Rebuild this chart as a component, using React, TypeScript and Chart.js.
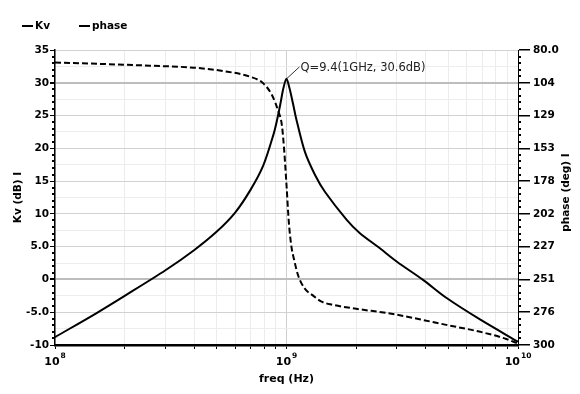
import { useEffect, useRef } from 'react';
import { Chart, registerables } from 'chart.js';
Chart.register(...registerables);

// ---- data ----
const kvFreqHz = [1e8, 1.5e8, 2e8, 3e8, 4e8, 5e8, 6e8, 7e8, 7.94e8, 8.8e8, 9.1e8, 9.4e8, 9.7e8, 1e9, 1.03e9, 1.07e9, 1.1e9, 1.2e9, 1.33e9, 1.47e9, 1.82e9, 2.07e9, 2.5e9, 3e9, 3.9e9, 4.9e9, 6.85e9, 1e10];
const kvDb = [-8.8, -5.2, -2.5, 1.4, 4.5, 7.3, 10.2, 13.7, 17.4, 22.2, 24.3, 26.7, 29.2, 30.6, 29.2, 26.6, 24.6, 19.5, 15.9, 13.3, 9.1, 7.1, 4.9, 2.7, -0.1, -2.8, -6.1, -9.5];

const phaseFreqHz = [1e8, 1.6e8, 2.57e8, 3.98e8, 5.33e8, 6.95e8, 7.94e8, 8.65e8, 9.23e8, 9.55e8, 9.77e8, 1e9, 1.023e9, 1.047e9, 1.084e9, 1.122e9, 1.2e9, 1.3e9, 1.41e9, 1.58e9, 2e9, 2.8e9, 3.8e9, 4.9e9, 6.8e9, 8.9e9, 1e10];
const phaseDeg = [89.3, 90.4, 91.7, 93.2, 95.7, 99.9, 104.9, 113.6, 126, 136, 154.6, 180.7, 208, 225, 238, 248, 258, 263, 267.5, 270, 273, 276.5, 281, 285, 290, 295.5, 299];

const kvTickValues = [-10, -5, 0, 5, 10, 15, 20, 25, 30, 35];
const kvTickLabels = ['-10', '-5.0', '0', '5.0', '10', '15', '20', '25', '30', '35'];
const phaseTickValues = [80, 104.44, 128.89, 153.33, 177.78, 202.22, 226.67, 251.11, 275.56, 300];
const phaseTickLabels = ['80.0', '104', '129', '153', '178', '202', '227', '251', '276', '300'];
const xDecades = [1e8, 1e9, 1e10];
const xDecadeExponents = ['8', '9', '10'];
const legendLabels = ['Kv', 'phase'];
const peakFreq = 1e9;
const peakDb = 30.6;
const peakText = 'Q=9.4(1GHz, 30.6dB)';
const xTitle = 'freq (Hz)';
const yTitle = 'Kv (dB) I';
const y2Title = 'phase (deg) I';

const FONT = '"DejaVu Sans", Verdana, sans-serif';

const overlayPlugin = {
  id: 'overlay',
  afterDraw(chart: any) {
    const ctx = chart.ctx as CanvasRenderingContext2D;
    const { left, right, top, bottom } = chart.chartArea;
    const xs = chart.scales.x;
    const ys = chart.scales.y;
    const y2 = chart.scales.y2;
    ctx.save();
    ctx.fillStyle = '#000';
    // minor tick dots, left axis
    for (let v = -10; v <= 35; v += 1) {
      if (v % 5 === 0) continue;
      const py = ys.getPixelForValue(v);
      ctx.fillRect(left - 3, Math.round(py) - 1, 2, 2);
    }
    // minor tick dots, right axis
    for (let i = 0; i < phaseTickValues.length - 1; i++) {
      const a = phaseTickValues[i];
      const b = phaseTickValues[i + 1];
      for (let k = 1; k < 5; k++) {
        const py = y2.getPixelForValue(a + ((b - a) * k) / 5);
        ctx.fillRect(right + 1, Math.round(py) - 1, 2, 2);
      }
    }
    // x decade labels with superscripts
    ctx.textBaseline = 'alphabetic';
    ctx.textAlign = 'left';
    xDecades.forEach((d, i) => {
      const px = xs.getPixelForValue(d);
      ctx.font = `bold 11px ${FONT}`;
      const wBase = ctx.measureText('10').width;
      ctx.font = `bold 7.5px ${FONT}`;
      const wExp = ctx.measureText(xDecadeExponents[i]).width;
      const x0 = px - (wBase + wExp + 1) / 2;
      ctx.font = `bold 11px ${FONT}`;
      ctx.fillText('10', x0, bottom + 20);
      ctx.font = `bold 7.5px ${FONT}`;
      ctx.fillText(xDecadeExponents[i], x0 + wBase + 1, bottom + 13);
    });
    // axis titles
    ctx.font = `bold 11px ${FONT}`;
    ctx.textAlign = 'center';
    ctx.fillText(xTitle, (left + right) / 2, bottom + 37);
    ctx.font = `bold 10.5px ${FONT}`;
    ctx.textBaseline = 'middle';
    ctx.save();
    ctx.translate(18, (top + bottom) / 2);
    ctx.rotate(-Math.PI / 2);
    ctx.fillText(yTitle, 0, 0);
    ctx.restore();
    ctx.save();
    ctx.translate(566, (top + bottom) / 2 - 5);
    ctx.rotate(-Math.PI / 2);
    ctx.fillText(y2Title, 0, 0);
    ctx.restore();
    // legend
    ctx.textAlign = 'left';
    ctx.font = `bold 10.5px ${FONT}`;
    const legendX = [22, 79];
    legendLabels.forEach((lab, i) => {
      ctx.fillRect(legendX[i], 25, 11, 2);
      ctx.fillText(lab, legendX[i] + 13, 26.5);
    });
    // peak annotation
    const px = xs.getPixelForValue(peakFreq);
    const py = ys.getPixelForValue(peakDb);
    ctx.strokeStyle = '#333';
    ctx.lineWidth = 1;
    ctx.beginPath();
    ctx.moveTo(px, py);
    ctx.lineTo(px + 13, py - 12);
    ctx.stroke();
    ctx.fillStyle = '#222';
    ctx.font = `11.5px ${FONT}`;
    ctx.textBaseline = 'alphabetic';
    ctx.fillText(peakText, px + 14, py - 8);
    ctx.restore();
  },
};

export default function App() {
  const ref = useRef<HTMLCanvasElement>(null);
  useEffect(() => {
    if (!ref.current) return;
    const xTickValues: number[] = [];
    for (let e = 8; e <= 9; e++) for (let m = 1; m <= 9; m++) xTickValues.push(m * Math.pow(10, e));
    xTickValues.push(1e10);

    const chart = new Chart(ref.current, {
      type: 'line',
      data: {
        datasets: [
          {
            label: legendLabels[0],
            data: kvFreqHz.map((f, i) => ({ x: f, y: kvDb[i] })),
            yAxisID: 'y',
            borderColor: '#000',
            borderWidth: 2,
            pointRadius: 0,
            tension: 0.3,
            fill: false,
          },
          {
            label: legendLabels[1],
            data: phaseFreqHz.map((f, i) => ({ x: f, y: phaseDeg[i] })),
            yAxisID: 'y2',
            borderColor: '#000',
            borderWidth: 2,
            borderDash: [6, 3],
            pointRadius: 0,
            cubicInterpolationMode: 'monotone',
            fill: false,
          },
        ],
      },
      options: {
        responsive: false,
        animation: false,
        layout: { padding: { top: 50, left: 0, right: 0, bottom: 0 } },
        plugins: { legend: { display: false }, tooltip: { enabled: false } },
        scales: {
          x: {
            type: 'logarithmic',
            min: 1e8,
            max: 1e10,
            afterBuildTicks: (s: any) => {
              s.ticks = xTickValues.map((v) => ({ value: v }));
            },
            afterFit: (s: any) => {
              s.height = 49;
            },
            ticks: { display: false },
            border: { color: '#000', width: 2.5 },
            grid: {
              color: (c: any) => (c.tick && Math.abs(c.tick.value - 1e9) < 1 ? '#cfcfcf' : '#ececec'),
              lineWidth: 1,
              tickLength: 4,
              tickColor: '#000',
            },
          },
          y: {
            type: 'linear',
            position: 'left',
            min: -10,
            max: 35,
            afterBuildTicks: (s: any) => {
              const t = [];
              for (let v = -10; v <= 35; v += 2.5) t.push({ value: v });
              s.ticks = t;
            },
            afterFit: (s: any) => {
              s.width = 55;
            },
            ticks: {
              padding: 1,
              color: '#000',
              font: { family: FONT, size: 10.5, weight: 'bold' },
              callback: (v: any) => {
                const i = kvTickValues.indexOf(Number(v));
                return i >= 0 ? kvTickLabels[i] : '';
              },
            },
            border: { color: '#000', width: 1.5 },
            grid: {
              color: (c: any) => {
                const v = c.tick ? c.tick.value : 0;
                if (v === 30 || v === 0) return '#bdbdbd';
                return v % 5 === 0 ? '#d2d2d2' : '#ededed';
              },
              lineWidth: (c: any) => {
                const v = c.tick ? c.tick.value : 0;
                return v === 30 || v === 0 ? 2 : 1;
              },
              tickLength: 5,
              tickColor: (c: any) => (c.tick && c.tick.value % 5 === 0 ? '#000' : 'rgba(0,0,0,0)'),
            },
          },
          y2: {
            type: 'linear',
            position: 'right',
            min: 80,
            max: 300,
            reverse: true,
            afterBuildTicks: (s: any) => {
              s.ticks = phaseTickValues.map((v) => ({ value: v }));
            },
            afterFit: (s: any) => {
              s.width = 62;
            },
            ticks: {
              padding: 3,
              color: '#000',
              font: { family: FONT, size: 10.5, weight: 'bold' },
              callback: (_v: any, i: number) => phaseTickLabels[i],
            },
            border: { color: '#000', width: 1 },
            grid: { drawOnChartArea: false, tickLength: 12, tickColor: '#000', lineWidth: 1.5 },
          },
        },
      },
      plugins: [overlayPlugin],
    } as any);
    return () => chart.destroy();
  }, []);
  return (
    <div style={{ position: 'absolute', left: 0, top: 0, width: 580, height: 394 }}>
      <canvas ref={ref} width={580} height={394} style={{ display: 'block' }} />
    </div>
  );
}
